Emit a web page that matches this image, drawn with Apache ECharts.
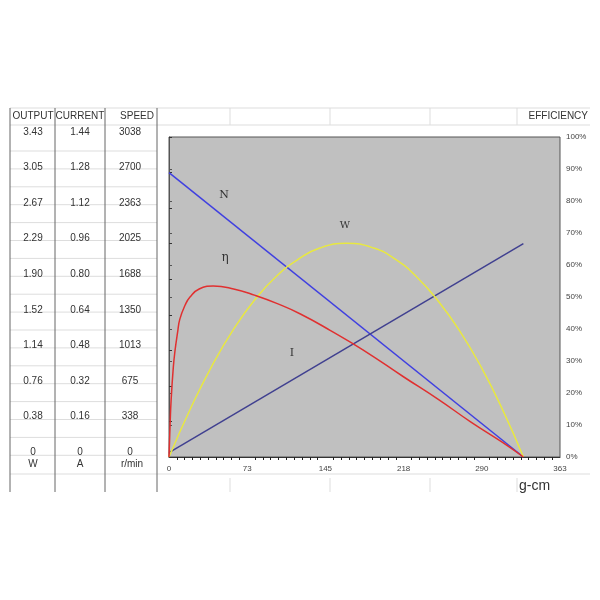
<!DOCTYPE html>
<html><head><meta charset="utf-8">
<script src="https://cdn.jsdelivr.net/npm/echarts@6/dist/echarts.min.js"></script>
<style>html,body{margin:0;background:#fff}#main{width:600px;height:600px}</style>
</head><body><div id="main"></div>
<script>
var myChart = echarts.init(document.getElementById('main'));

// table columns (bottom to top)
var outputTicks = ['0','0.38','0.76','1.14','1.52','1.90','2.29','2.67','3.05','3.43'];
var currentTicks = ['0','0.16','0.32','0.48','0.64','0.80','0.96','1.12','1.28','1.44'];
var speedTicks = ['0','338','675','1013','1350','1688','2025','2363','2700','3038'];
var xTicks = [0,73,145,218,290,363];

// curves: [torque g-cm, value]
var speedN = [[0,2700],[329,0]];
var currentI = [[0,0.02],[329,0.96]];
var outputW = [[0,0],[20,0.52],[40,0.98],[60,1.37],[80,1.69],[100,1.94],[120,2.12],[140,2.24],[165,2.29],
  [190,2.24],[210,2.12],[230,1.93],[250,1.67],[270,1.35],[290,0.96],[310,0.50],[329,0]];
var effEta = [[0,0],[1,10],[2,18],[4,28],[5.5,33],[8,39],[10,43],[15,47.5],[19.5,50],[28,52.5],[41,53.4],
  [60,52.5],[80,50.5],[100,48],[122,44.7],[150,39.5],[180,33.5],[218,25],[250,18],[280,11],[310,4.5],[329,0]];

var L = 169, T = 137, R = 560, B = 457;

function tableAxis(ticks, margin, max) {
  return {
    type: 'value', min: 0, max: 9, interval: 1, position: 'left', offset: 0,
    axisLine: {show: false}, axisTick: {show: false}, splitLine: {show: false},
    axisLabel: {margin: margin, align: 'center', verticalAlign: 'bottom', color: '#333', fontSize: 10,
      fontFamily: 'Liberation Sans', formatter: function (v) { return ticks[v]; }}
  };
}
function hiddenAxis(max) {
  return {type: 'value', min: 0, max: max, show: false};
}

var graphics = [];
function line(x1, y1, x2, y2, c) {
  graphics.push({type: 'line', shape: {x1: x1, y1: y1, x2: x2, y2: y2}, silent: true,
    style: {stroke: c || '#ddd', lineWidth: 1}});
}
function text(x, y, s, size, align, font) {
  graphics.push({type: 'text', x: x, y: y, silent: true,
    style: {text: s, fontSize: size || 10, fill: '#333', align: align || 'center', verticalAlign: 'middle',
      fontFamily: font || 'Liberation Sans'}});
}
// table grid
line(10, 108, 590, 108); line(10, 125, 590, 125);
for (var y = 151; y <= 470; y += 17.9) line(10, y, 157, y);
line(10, 474, 590, 474);
[10, 55, 105, 157].forEach(function (x) { line(x, 108, x, 492, '#666'); });
[230, 330, 430, 517].forEach(function (x) { line(x, 108, x, 125); line(x, 478, x, 492); });
text(33, 116, 'OUTPUT', 10); text(80, 116, 'CURRENT', 10); text(137, 116, 'SPEED', 10);
text(588, 116, 'EFFICIENCY', 10, 'right');
text(33, 464, 'W', 10); text(80, 464, 'A', 10); text(132, 464, 'r/min', 10);
text(519, 486, 'g-cm', 14, 'left');
text(224, 195, 'N', 11, 'center', 'DejaVu Serif');
text(225, 258, 'η', 12, 'center', 'DejaVu Serif');
text(345, 225, 'W', 10, 'center', 'DejaVu Serif');
text(292, 353, 'I', 11, 'center', 'DejaVu Serif');

var option = {
  animation: false,
  grid: {left: L, top: T, width: R - L, height: B - T, show: true, backgroundColor: '#c0c0c0',
    borderColor: '#555', borderWidth: 1},
  xAxis: {
    type: 'value', min: 0, max: 363, interval: 72.6,
    axisLine: {lineStyle: {color: '#333'}},
    axisTick: {show: false},
    minorTick: {show: true, splitNumber: 10, length: 3, lineStyle: {color: '#222'}},
    splitLine: {show: false},
    axisLabel: {fontSize: 8, color: '#444', margin: 8, formatter: function (v) { return Math.round(v); }}
  },
  yAxis: [
    {type: 'value', min: 0, max: 100, interval: 10, position: 'right',
      axisLine: {show: true, lineStyle: {color: '#555'}}, axisTick: {show: true, length: 3, inside: false},
      splitLine: {show: false},
      axisLabel: {fontSize: 8, color: '#444', margin: 6, formatter: '{value}%'}},
    tableAxis(outputTicks, 136), tableAxis(currentTicks, 89), tableAxis(speedTicks, 39),
    hiddenAxis(3038), hiddenAxis(1.44), hiddenAxis(3.43),
    {type: 'value', min: 0, max: 9, interval: 1, position: 'left', offset: 0,
      axisLine: {show: false}, axisTick: {show: true, inside: true, length: 3, lineStyle: {color: '#333'}},
      axisLabel: {show: false}, splitLine: {show: false}}
  ],
  series: [
    {name: 'N', type: 'line', yAxisIndex: 4, data: speedN, showSymbol: false, lineStyle: {color: '#4040e0', width: 1.5}},
    {name: 'I', type: 'line', yAxisIndex: 5, data: currentI, showSymbol: false, lineStyle: {color: '#404090', width: 1.5}},
    {name: 'W', type: 'line', yAxisIndex: 6, data: outputW, smooth: true, showSymbol: false, lineStyle: {color: '#e8e840', width: 1.5}},
    {name: 'η', type: 'line', yAxisIndex: 0, data: effEta, smooth: true, showSymbol: false, lineStyle: {color: '#e03030', width: 1.5}}
  ],
  graphic: graphics
};
myChart.setOption(option);
</script></body></html>
